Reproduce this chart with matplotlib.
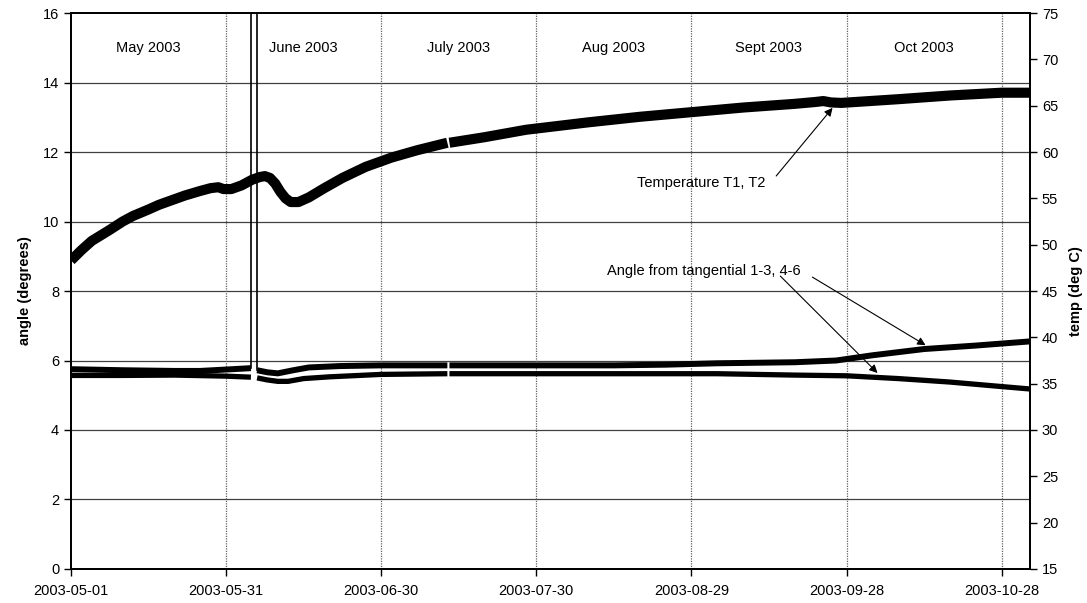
"""
Angle from tangential and temperature T1, T2, May - Nov 2003
"""
import numpy as np
import pandas as pd
import matplotlib

matplotlib.use("Agg")
import matplotlib.pyplot as plt
import matplotlib.dates as mdates

plt.rcParams["font.family"] = ["Liberation Sans", "DejaVu Sans"]

START = pd.Timestamp("2003-05-01")

# temperature T1, T2 (deg C), days since 2003-05-01
temp_days = [0, 2, 4, 7.5, 10, 12, 15, 17, 20, 22, 25, 27, 28.5, 29.5, 31,
             33, 35, 36.5, 37.5, 38.5, 39.5, 40.5, 41.5, 42.5, 44, 46, 49,
             52.5, 57, 62, 67, 72.8, 73.0, 73.2, 80, 88, 100, 110, 120, 130,
             140, 144, 145.5, 147, 149, 160, 170, 180, 185.5]
temp_vals = [48.3, 49.4, 50.4, 51.6, 52.5, 53.1, 53.8, 54.3, 54.9, 55.3, 55.8,
             56.1, 56.2, 56.0, 56.0, 56.4, 57.0, 57.3, 57.4, 57.2, 56.6, 55.7,
             55.0, 54.6, 54.6, 55.1, 56.1, 57.2, 58.4, 59.4, 60.2, 61.0,
             np.nan, 61.0, 61.6, 62.4, 63.2, 63.8, 64.3, 64.8, 65.2, 65.4,
             65.5, 65.35, 65.3, 65.7, 66.1, 66.4, 66.4]

# angle from tangential (degrees), upper series
ang1_days = [0, 10, 20, 25, 30, 34.8, 35.4, 36, 38, 40, 43, 46, 52, 60, 72.8,
             73.0, 73.2, 90, 105, 115, 125, 140, 148, 155, 165, 175, 185.5]
ang1_vals = [5.75, 5.72, 5.70, 5.70, 5.74, 5.78, np.nan, 5.72, 5.66, 5.63,
             5.72, 5.80, 5.84, 5.86, 5.86, np.nan, 5.86, 5.86, 5.86, 5.88,
             5.92, 5.95, 6.00, 6.15, 6.33, 6.43, 6.55]

# angle from tangential (degrees), lower series
ang2_days = [0, 10, 20, 30, 34.8, 35.4, 36, 38, 40, 42, 45, 50, 60, 72.8, 73.0,
             73.2, 90, 110, 125, 140, 150, 160, 170, 180, 185.5]
ang2_vals = [5.57, 5.57, 5.58, 5.55, 5.52, np.nan, 5.50, 5.44, 5.40, 5.40,
             5.48, 5.53, 5.60, 5.62, np.nan, 5.62, 5.62, 5.62, 5.62, 5.58,
             5.56, 5.48, 5.38, 5.25, 5.18]

# off-scale reading around 4 June
spike_days = [34.8, 34.8, 36.0, 36.0]
spike_vals = [5.78, 17, 17, 5.72]

month_labels = ["May 2003", "June 2003", "July 2003", "Aug 2003",
                "Sept 2003", "Oct 2003"]


def to_dates(days):
    return START + pd.to_timedelta(days, unit="D")


fig = plt.figure(figsize=(10.87, 6.03), dpi=100)
ax = fig.add_axes([0.0653, 0.0564, 0.8823, 0.922])
ax2 = ax.twinx()

# grid
for y in range(2, 16, 2):
    ax.axhline(y, color="#404040", lw=0.9, zorder=1)
tick_dates = [START + pd.Timedelta(days=30 * k) for k in range(7)]
for d in tick_dates[1:]:
    ax.axvline(d, color="#606060", lw=0.9, ls=(0, (1, 1)), zorder=1)

style = dict(color="black", solid_capstyle="butt", solid_joinstyle="round",
             zorder=3)
ax.plot(to_dates(ang1_days), ang1_vals, lw=4.3, **style)
ax.plot(to_dates(ang2_days), ang2_vals, lw=3.8, **style)
ax.plot(to_dates(spike_days), spike_vals, color="black", lw=1.2, zorder=3)
ax2.plot(to_dates(temp_days), temp_vals, lw=7.3, **style)

ax.set_xlim(START, START + pd.Timedelta(days=185.5))
ax.set_ylim(0, 16)
ax2.set_ylim(15, 75)
ax.set_yticks(range(0, 17, 2))
ax2.set_yticks(range(15, 76, 5))
ax.set_xticks(tick_dates)
ax.xaxis.set_major_formatter(mdates.DateFormatter("%Y-%m-%d"))

for a in (ax, ax2):
    a.tick_params(direction="out", length=5, width=1, labelsize=10.5,
                  colors="black")
    for s in a.spines.values():
        s.set_linewidth(1.3)
ax.tick_params(axis="x", pad=6)

ax.set_ylabel("angle (degrees)", fontsize=10.5, fontweight="bold", labelpad=8)
ax2.set_ylabel("temp (deg C)", fontsize=10.5, fontweight="bold", labelpad=8)

# month names
for k, name in enumerate(month_labels):
    ax.text(START + pd.Timedelta(days=30 * k + 15), 15.0, name,
            ha="center", va="center", fontsize=10.5)

arrow = dict(arrowstyle="-|>", color="black", lw=0.8, mutation_scale=12,
             shrinkA=0, shrinkB=0)
ax.text(START + pd.Timedelta(days=109.5), 11.1, "Temperature T1, T2",
        ha="left", va="center", fontsize=10.5)
ax.annotate("", xy=(START + pd.Timedelta(days=147.3), 13.27),
            xytext=(START + pd.Timedelta(days=136.4), 11.31),
            arrowprops=arrow)

ax.text(START + pd.Timedelta(days=103.7), 8.58,
        "Angle from tangential 1-3, 4-6", ha="left", va="center",
        fontsize=10.5)
ax.annotate("", xy=(START + pd.Timedelta(days=156.0), 5.64),
            xytext=(START + pd.Timedelta(days=137.2), 8.43),
            arrowprops=arrow)
ax.annotate("", xy=(START + pd.Timedelta(days=165.3), 6.44),
            xytext=(START + pd.Timedelta(days=143.4), 8.40),
            arrowprops=arrow)

fig.savefig("out.png", dpi=100)
